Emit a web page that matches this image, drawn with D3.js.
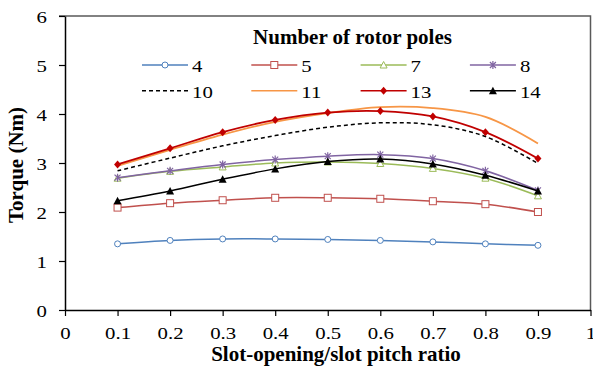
<!DOCTYPE html>
<html>
<head>
<meta charset="utf-8">
<script src="https://cdn.jsdelivr.net/npm/d3@7"></script>
<style>
  body { margin: 0; background: #fff; }
</style>
</head>
<body>
<script>
'use strict';
const ratios = [0.1, 0.2, 0.3, 0.4, 0.5, 0.6, 0.7, 0.8, 0.9];
const poles4 = [1.35, 1.42, 1.45, 1.45, 1.44, 1.42, 1.39, 1.35, 1.32];
const poles5 = [2.09, 2.18, 2.24, 2.29, 2.29, 2.27, 2.22, 2.16, 2.00];
const poles7 = [2.69, 2.83, 2.92, 3.00, 3.02, 2.99, 2.89, 2.69, 2.33];
const poles8 = [2.70, 2.84, 2.97, 3.07, 3.14, 3.17, 3.09, 2.84, 2.44];
const poles10 = [2.84, 3.10, 3.35, 3.56, 3.73, 3.82, 3.78, 3.54, 2.99];
const poles11 = [2.94, 3.27, 3.58, 3.84, 4.02, 4.14, 4.12, 3.94, 3.40];
const poles13 = [2.97, 3.30, 3.63, 3.88, 4.03, 4.06, 3.95, 3.63, 3.09];
const poles14 = [2.23, 2.43, 2.67, 2.88, 3.03, 3.08, 2.98, 2.75, 2.43];
const xTicks = [0, 0.1, 0.2, 0.3, 0.4, 0.5, 0.6, 0.7, 0.8, 0.9, 1];
const yTicks = [0, 1, 2, 3, 4, 5, 6];

const series = [
  { name: '4', values: poles4, color: '#4F81BD', marker: 'circle' },
  { name: '5', values: poles5, color: '#C0504D', marker: 'square' },
  { name: '7', values: poles7, color: '#9BBB59', marker: 'triangle' },
  { name: '8', values: poles8, color: '#8064A2', marker: 'star' },
  { name: '10', values: poles10, color: '#000000', marker: null, dash: '4,3' },
  { name: '11', values: poles11, color: '#F79646', marker: null },
  { name: '13', values: poles13, color: '#C00000', marker: 'diamond' },
  { name: '14', values: poles14, color: '#000000', marker: 'triangleFill' }
];

const FONT = '"Liberation Serif", "Times New Roman", serif';
const width = 593, height = 367;
const margin = { top: 16, right: 2, bottom: 57, left: 65 };

// the numbers in the reference are drawn wide: stretch them sideways
function widen(sel, k) {
  sel.each(function() {
    const w = this.getComputedTextLength();
    d3.select(this).attr('textLength', w * k).attr('lengthAdjust', 'spacingAndGlyphs');
  });
}

const svg = d3.select('body').append('svg')
  .attr('width', width)
  .attr('height', height);

const x = d3.scaleLinear().domain([0, 1]).range([margin.left, width - margin.right - 0.5]);
const y = d3.scaleLinear().domain([0, 6]).range([height - margin.bottom, margin.top]);

// frame (top and right)
svg.append('path')
  .attr('d', 'M' + (x(0) - 6) + ',' + y(6) + 'H' + x(1) + 'V' + y(0))
  .attr('fill', 'none')
  .attr('stroke', '#595959')
  .attr('stroke-width', 1.5);

const xAxis = svg.append('g')
  .attr('transform', 'translate(0,' + y(0) + ')')
  .call(d3.axisBottom(x).tickValues(xTicks).tickSize(6).tickSizeOuter(0)
    .tickFormat(d => d === 0 || d === 1 ? String(d) : d.toFixed(1)));
const yAxis = svg.append('g')
  .attr('transform', 'translate(' + x(0) + ',0)')
  .call(d3.axisLeft(y).tickValues(yTicks).tickSize(6).tickSizeOuter(0)
    .tickFormat(d => String(d)));

[xAxis, yAxis].forEach(g => {
  g.attr('font-family', FONT).attr('font-size', 16);
  g.select('.domain').attr('stroke', '#000').attr('stroke-width', 1.5);
  g.selectAll('.tick line').attr('stroke', '#000').attr('stroke-width', 1.2);
  g.selectAll('.tick text').attr('fill', '#000');
});
xAxis.selectAll('.tick text').attr('y', 29).attr('dy', null);
yAxis.selectAll('.tick text').attr('x', -18).attr('dy', '0.42em');
widen(xAxis.selectAll('.tick text'), 1.3);
widen(yAxis.selectAll('.tick text'), 1.3);

svg.append('text')
  .attr('x', 336)
  .attr('y', 361)
  .attr('text-anchor', 'middle')
  .attr('font-family', FONT)
  .attr('font-size', 21)
  .attr('font-weight', 'bold')
  .text('Slot-opening/slot pitch ratio');
svg.append('text')
  .attr('transform', 'translate(23,' + 165 + ') rotate(-90)')
  .attr('text-anchor', 'middle')
  .attr('font-family', FONT)
  .attr('font-size', 21)
  .attr('font-weight', 'bold')
  .text('Torque (Nm)');

function drawMarker(g, type, color) {
  if (type === 'circle') {
    g.append('circle').attr('r', 3).attr('fill', '#fff').attr('stroke', color).attr('stroke-width', 1);
  } else if (type === 'square') {
    g.append('rect').attr('x', -3.5).attr('y', -3.5).attr('width', 7).attr('height', 7)
      .attr('fill', '#fff').attr('stroke', color).attr('stroke-width', 1);
  } else if (type === 'triangle') {
    g.append('path').attr('d', 'M0,-3.5L3.5,3L-3.5,3Z')
      .attr('fill', '#fff').attr('stroke', color).attr('stroke-width', 1);
  } else if (type === 'triangleFill') {
    g.append('path').attr('d', 'M0,-4L4,3.5L-4,3.5Z').attr('fill', color);
  } else if (type === 'diamond') {
    g.append('path').attr('d', 'M0,-4L3.5,0L0,4L-3.5,0Z').attr('fill', color);
  } else if (type === 'star') {
    g.append('path').attr('d', 'M-3,-3L3,3M-3,3L3,-3M0,-4V4')
      .attr('stroke', color).attr('stroke-width', 1.2);
  }
}

const line = d3.line()
  .x((d, i) => x(ratios[i]))
  .y(d => y(d))
  .curve(d3.curveCatmullRom.alpha(0.5));

// draw in order so red 13 sits above orange 11
const drawOrder = ['4', '5', '7', '8', '14', '10', '11', '13'];
drawOrder.forEach(name => {
  const s = series.find(e => e.name === name);
  svg.append('path')
    .datum(s.values)
    .attr('fill', 'none')
    .attr('stroke', s.color)
    .attr('stroke-width', s.name === '13' || s.name === '11' ? 1.8 : 1.5)
    .attr('stroke-dasharray', s.dash || null)
    .attr('d', line);
  if (s.marker) {
    svg.selectAll(null)
      .data(s.values)
      .enter()
      .append('g')
      .attr('transform', (d, i) => 'translate(' + x(ratios[i]) + ',' + y(d) + ')')
      .each(function() { drawMarker(d3.select(this), s.marker, s.color); });
  }
});

// legend
svg.append('text')
  .attr('x', 352.5)
  .attr('y', 43.5)
  .attr('text-anchor', 'middle')
  .attr('font-family', FONT)
  .attr('font-size', 21)
  .attr('font-weight', 'bold')
  .text('Number of rotor poles');

const legend = svg.append('g');
series.forEach((s, i) => {
  const col = i % 4, row = Math.floor(i / 4);
  const lx = 142 + col * 109.3, ly = 65 + row * 25.7;
  const g = legend.append('g').attr('transform', 'translate(' + lx + ',' + ly + ')');
  g.append('line')
    .attr('x1', 0).attr('x2', 46)
    .attr('stroke', s.color)
    .attr('stroke-width', 1.5)
    .attr('stroke-dasharray', s.dash || null);
  if (s.marker) {
    const m = g.append('g').attr('transform', 'translate(23,0)');
    drawMarker(m, s.marker, s.color);
  }
  const t = g.append('text')
    .attr('x', 50)
    .attr('y', 7.3)
    .attr('font-family', FONT)
    .attr('font-size', 16)
    .text(s.name);
  widen(t, 1.3);
});
</script>
</body>
</html>
